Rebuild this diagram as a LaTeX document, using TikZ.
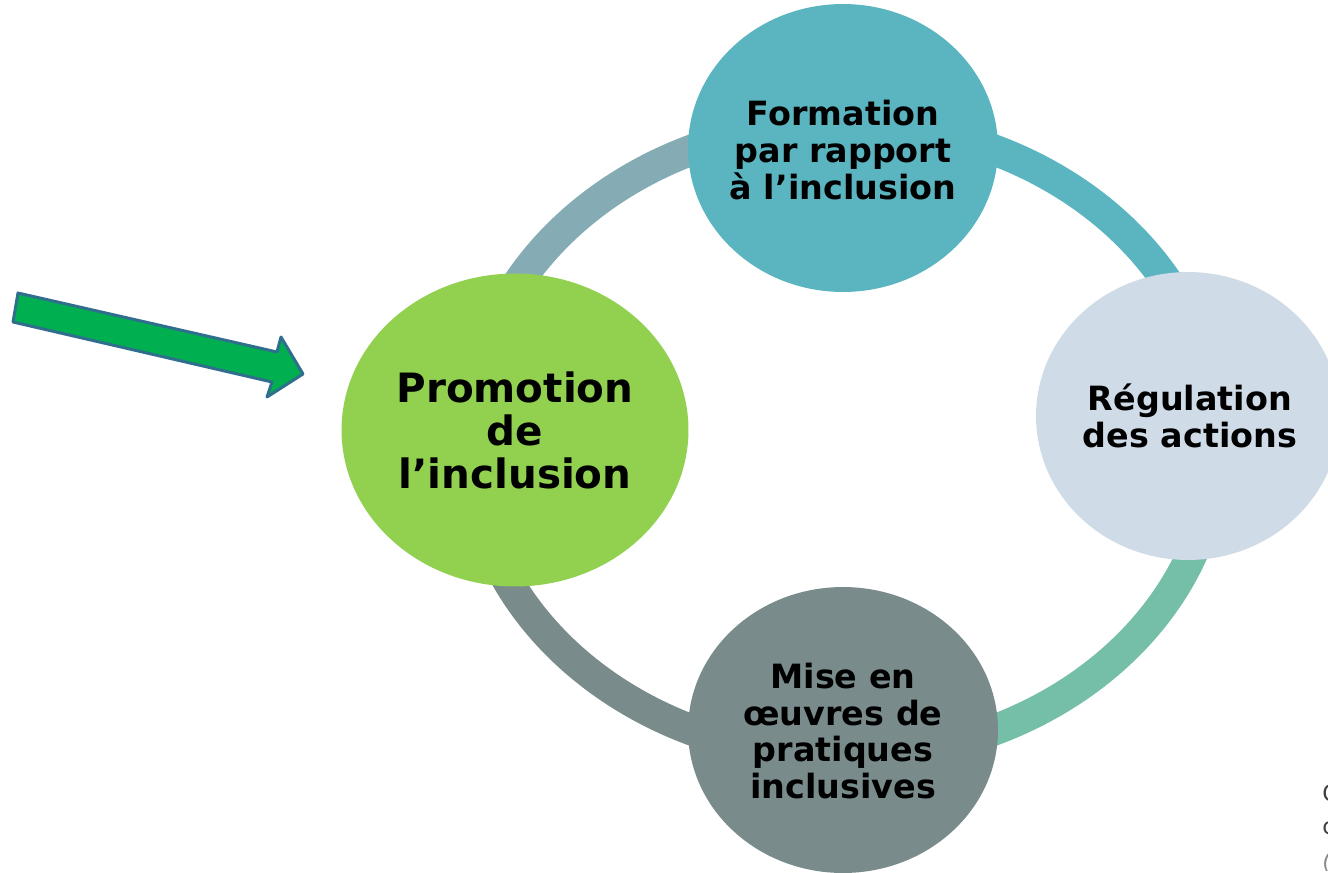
\documentclass[tikz,border=0pt]{standalone}
\usepackage{fontspec}
\setmainfont{DejaVu Sans}
\usetikzlibrary{shapes.geometric}

\definecolor{promo}{HTML}{92D050}
\definecolor{forma}{HTML}{5AB5C0}
\definecolor{regul}{HTML}{CFDBE6}
\definecolor{mise}{HTML}{7A8B8C}
\definecolor{ringTL}{HTML}{85ACB5}
\definecolor{ringBR}{HTML}{75BEA8}
\definecolor{arrowfill}{HTML}{00B050}
\definecolor{arrowline}{HTML}{2F6E8C}

\begin{document}
\begin{tikzpicture}[x=0.02cm,y=-0.02cm,line join=round,
    bubble/.style={ellipse,inner sep=0pt,draw=none},
    lbl/.style={align=center,inner sep=0pt,text=black,font=\bfseries\fontsize{19}{21}\selectfont},
    ring/.style={line width=0.62cm}]
\useasboundingbox (0,0) rectangle (1328,872);

% the cycle ring, one arc per step
\coordinate (hub) at (843,440);
\draw[ring,ringTL](hub) ++(180:374 and 317) arc[start angle=180,end angle=270,x radius=374,y radius=317];
\draw[ring,forma](hub) ++(270:374 and 317) arc[start angle=270,end angle=360,x radius=374,y radius=317];
\draw[ring,ringBR](hub) ++(0:374 and 317) arc[start angle=0,end angle=90,x radius=374,y radius=317];
\draw[ring,mise](hub) ++(90:374 and 317) arc[start angle=90,end angle=180,x radius=374,y radius=317];

% the four steps
\node[bubble,fill=promo,minimum width=6.94cm,minimum height=6.26cm] (promo) at (515,430) {};
\node[bubble,fill=forma,minimum width=6.2cm,minimum height=5.76cm] (forma) at (843,148) {};
\node[bubble,fill=regul,minimum width=6.08cm,minimum height=5.76cm] (regul) at (1188,416) {};
\node[bubble,fill=mise,minimum width=6.2cm,minimum height=5.72cm] (mise) at (843,730) {};

\node[lbl,font=\bfseries\fontsize{23}{24.5}\selectfont] (promo-t) at (promo) {Promotion\\de\\l’inclusion};
\node[lbl] (forma-t) at (843,150) {Formation\\par rapport\\à l’inclusion};
\node[lbl] (regul-t) at (1190,416) {Régulation\\des actions};
\node[lbl] (mise-t) at (843,731) {Mise en\\œuvres de\\pratiques\\inclusives};

% block arrow pointing at the first step
\filldraw[fill=arrowfill,draw=arrowline,line width=1.7pt](18,293)--(277,352)--(281,337)--(303,374)--(267,397)--(272,382)--(13,322)--cycle;

% source note, running off the right edge
\node[anchor=north west,inner sep=0pt,align=left,text=black!75,font=\fontsize{13}{19}\selectfont] (note) at (1322,784) {C\\c\\{\color{black!45}\itshape (}};
\end{tikzpicture}
\end{document}
